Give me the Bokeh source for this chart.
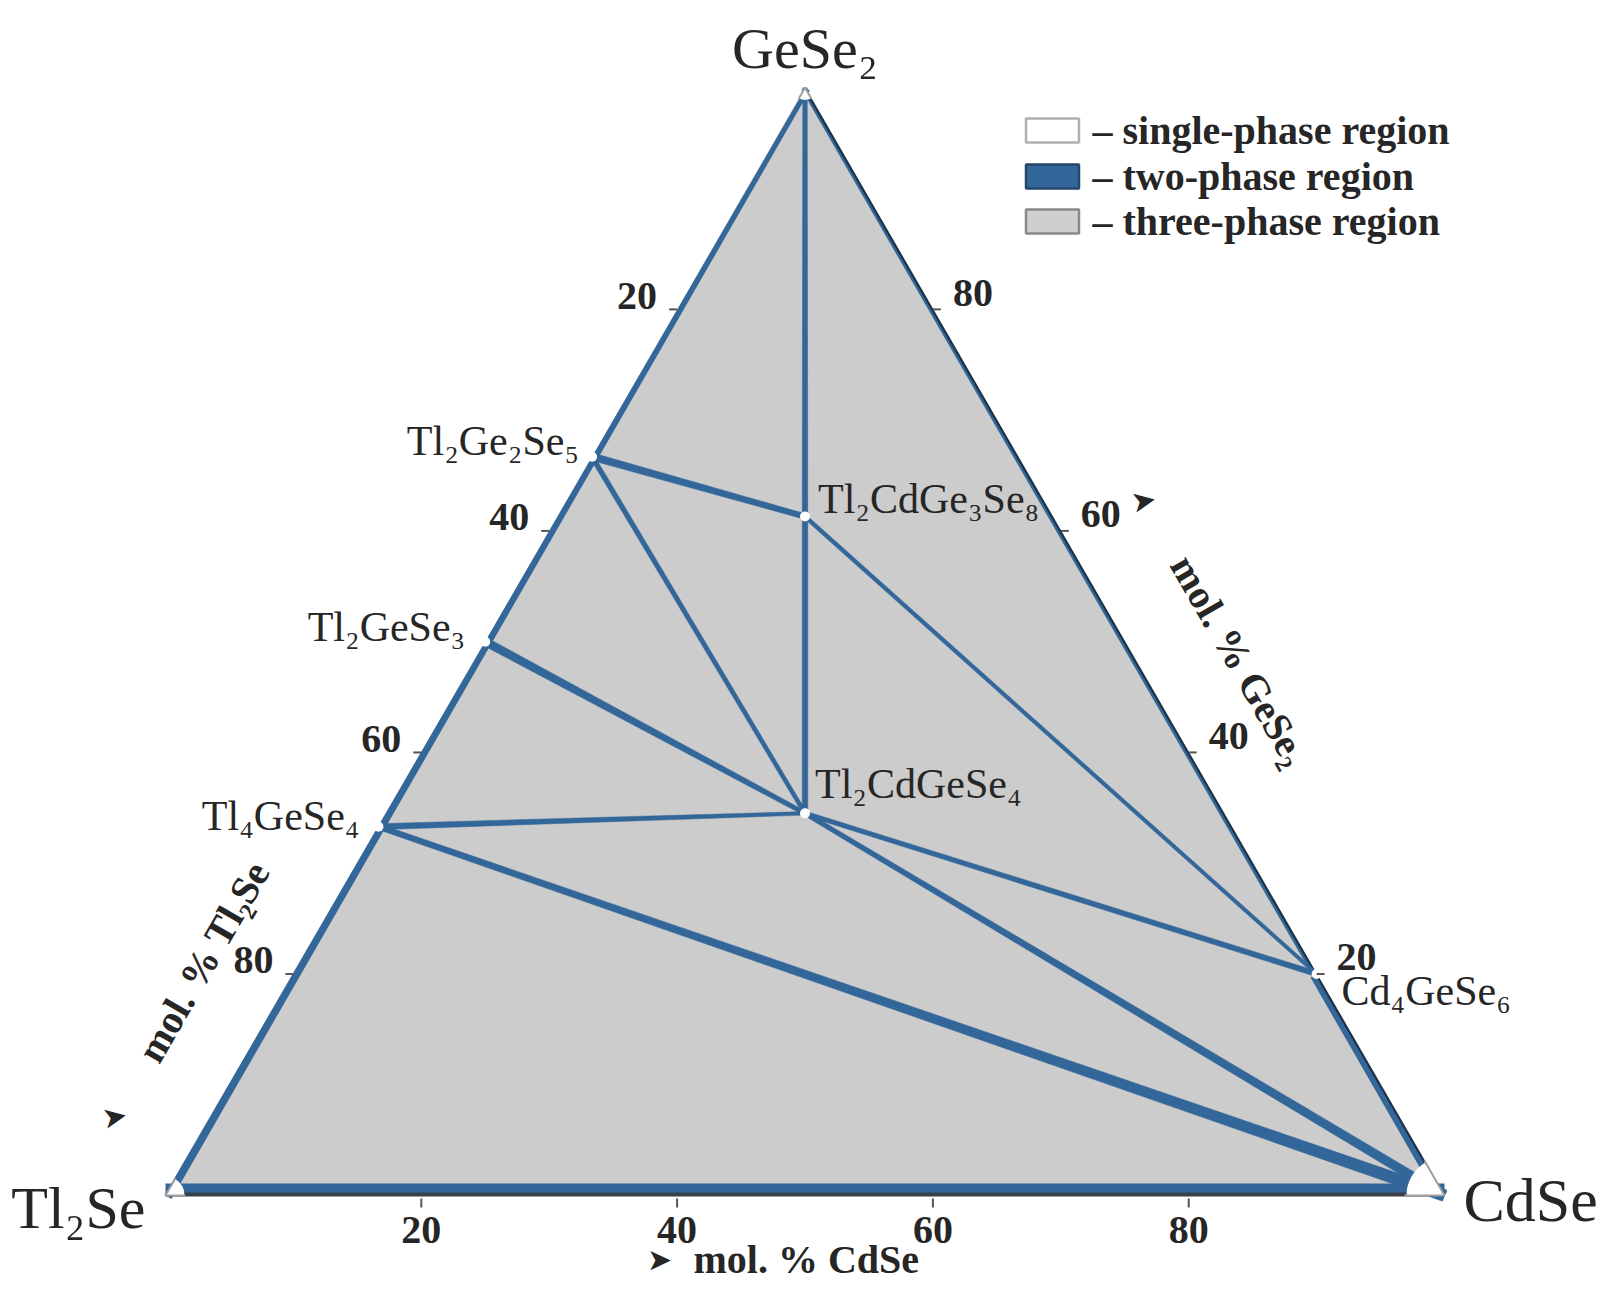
import numpy as np
from bokeh.plotting import figure
from bokeh.models import Range1d, ColumnDataSource
from bokeh.core.properties import value
from bokeh.embed import file_html
from bokeh.resources import INLINE

# ---------------- data (mol. %) ----------------
compounds = ["GeSe₂", "Tl₂Ge₂Se₅", "Tl₂GeSe₃", "Tl₄GeSe₄",
             "Tl₂CdGe₃Se₈", "Tl₂CdGeSe₄", "Cd₄GeSe₆", "CdSe", "Tl₂Se"]
gese2_pct = [100.0, 66.7, 50.0, 33.3, 61.3, 34.5, 20.0, 0.0, 0.0]
cdse_pct = [0.0, 0.0, 0.0, 0.0, 19.35, 32.75, 80.0, 100.0, 0.0]
tl2se_pct = [0.0, 33.3, 50.0, 66.7, 19.35, 32.75, 0.0, 0.0, 100.0]

tie_from = ["GeSe₂", "Tl₂CdGe₃Se₈", "Tl₂Ge₂Se₅", "Tl₂Ge₂Se₅", "Tl₂CdGe₃Se₈",
            "Tl₂GeSe₃", "Tl₄GeSe₄", "Tl₂CdGeSe₄", "Tl₂CdGeSe₄", "Tl₄GeSe₄"]
tie_to = ["Tl₂CdGe₃Se₈", "Tl₂CdGeSe₄", "Tl₂CdGe₃Se₈", "Tl₂CdGeSe₄", "Cd₄GeSe₆",
          "Tl₂CdGeSe₄", "Tl₂CdGeSe₄", "Cd₄GeSe₆", "CdSe", "CdSe"]

tick_values = [20, 40, 60, 80]
tick_labels = ["20", "40", "60", "80"]
axis_titles = ["mol. % Tl₂Se", "mol. % GeSe₂", "mol. % CdSe"]
legend_labels = ["– single-phase region", "– two-phase region", "– three-phase region"]

# ---------------- styling ----------------
BLUE = "#336699"
DARK = "#262626"
GRAY_FILL = "#cccccc"
SERIF = "Liberation Serif"
W, H = 1610, 1290
S = 12.79                 # px per composition unit
X0, Y0 = 165.0, 1195.0    # canvas pixel of the Tl2Se corner
R3 = np.sqrt(3) / 2.0
MID = 0.34                # baseline -> visual middle, in em
# tie line widths in px (start, end)
tie_w = [(4.5, 5.5), (5.5, 5.5), (7.5, 5.5), (5, 4), (4, 3.5), (8.5, 4.5), (6, 3.5), (4.5, 5.5), (4.5, 9.5), (5.5, 12)]


def ternxy(g, c):
    return c + g / 2.0, g * R3


def px2d(px, py):
    return (px - X0) / S, (Y0 - py) / S


def strip(p0, p1, w0, w1, shift=0.0):
    x0, y0 = p0
    x1, y1 = p1
    dx, dy = x1 - x0, y1 - y0
    L = np.hypot(dx, dy)
    nx, ny = -dy / L, dx / L
    h0, h1, s = w0 / 2 / S, w1 / 2 / S, shift / S
    xs = [x0 + nx * (s + h0), x1 + nx * (s + h1), x1 + nx * (s - h1), x0 + nx * (s - h0)]
    ys = [y0 + ny * (s + h0), y1 + ny * (s + h1), y1 + ny * (s - h1), y0 + ny * (s - h0)]
    return xs, ys


pos = {n: ternxy(g, c) for n, g, c in zip(compounds, gese2_pct, cdse_pct)}
A, B, C = pos["GeSe₂"], pos["Tl₂Se"], pos["CdSe"]

p = figure(width=W, height=H,
           x_range=Range1d((0 - X0) / S, (W - X0) / S),
           y_range=Range1d((Y0 - H) / S, (Y0 - 0) / S),
           output_backend="svg", toolbar_location=None, tools="",
           min_border=0, x_axis_location=None, y_axis_location=None,
           background_fill_color="white", border_fill_color="white",
           outline_line_color=None)
p.xgrid.visible = False
p.ygrid.visible = False

# three-phase field (whole triangle)
p.patch([B[0], C[0], A[0]], [B[1], C[1], A[1]], fill_color=GRAY_FILL, line_color=None)

# edge two-phase bands
bands = []
bands.append((strip(B, C, 10, 10, shift=7), BLUE))
bands.append((strip(B, C, 4, 4, shift=1), "#3a4048"))
bands.append((strip(A, B, 5, 8, shift=3), BLUE))
cd4 = pos["Cd₄GeSe₆"]
bands.append((strip(cd4, A, 3.5, 3.0, shift=2.5), BLUE))
bands.append((strip(cd4, A, 2.2, 2.2, shift=0.6), "#1d3148"))
bands.append((strip(C, cd4, 7, 6, shift=4), BLUE))
bands.append((strip(C, cd4, 2.2, 2.2, shift=0.6), "#1d3148"))
p.patches([b[0][0] for b in bands], [b[0][1] for b in bands],
          fill_color=[b[1] for b in bands], line_color=None)

# tie lines (narrow two-phase regions)
txs, tys = [], []
for f, t, (w0, w1) in zip(tie_from, tie_to, tie_w):
    xs, ys = strip(pos[f], pos[t], w0, w1)
    txs.append(xs)
    tys.append(ys)
p.patches(txs, tys, fill_color=BLUE, line_color=BLUE, line_width=0.5)

# single-phase regions at corners
for (cx, cy), r, a0, a1 in [(C, 38, 120, 180), (B, 19, 0, 60), (A, 12, 240, 300)]:
    p.wedge(x=[cx], y=[cy], radius=r / S, start_angle=a0, end_angle=a1,
            start_angle_units="deg", end_angle_units="deg",
            fill_color="white", line_color=None)

# light outline at corners
seg = []
for corner, others, r in [(C, (B, A), 40), (B, (C, A), 20), (A, (B, C), 13)]:
    for o in others:
        d = np.array(o) - np.array(corner)
        d = d / np.hypot(*d)
        seg.append((corner[0], corner[1], corner[0] + d[0] * r / S, corner[1] + d[1] * r / S))
p.segment([s[0] for s in seg], [s[1] for s in seg], [s[2] for s in seg], [s[3] for s in seg],
          line_color="#a0a0a0", line_width=2)

# compound points (single-phase)
inner = [n for n in compounds if n not in ("GeSe₂", "CdSe", "Tl₂Se")]
p.scatter([pos[n][0] for n in inner], [pos[n][1] for n in inner], size=10,
          fill_color="white", line_color=None)

# compound labels: (dx px, baseline dy px [down], align, font px)
lab_off = {"GeSe₂": (0, -20, "center", 58), "Tl₂Ge₂Se₅": (-13, -1, "right", 42),
           "Tl₂GeSe₃": (-20, 0, "right", 42), "Tl₄GeSe₄": (-19, 4, "right", 42),
           "Tl₂CdGe₃Se₈": (13, -3, "left", 42), "Tl₂CdGeSe₄": (10, -15, "left", 42),
           "Cd₄GeSe₆": (25, 31, "left", 42), "CdSe": (19, 26, "left", 62),
           "Tl₂Se": (-20, 33, "right", 60)}
lsrc = ColumnDataSource(dict(
    x=[pos[n][0] + lab_off[n][0] / S for n in compounds],
    y=[pos[n][1] - (lab_off[n][1] - MID * lab_off[n][3]) / S for n in compounds],
    text=compounds,
    align=[lab_off[n][2] for n in compounds],
    size=["%dpx" % lab_off[n][3] for n in compounds]))
p.text(x="x", y="y", text="text", source=lsrc, text_align="align", text_baseline="middle",
       text_font=value(SERIF), text_font_size="size", text_color=DARK)

# ticks and tick labels
left_pts = [ternxy(100 - t, 0) for t in tick_values]      # mol.% Tl2Se
right_pts = [ternxy(t, 100 - t) for t in tick_values]     # mol.% GeSe2
bottom_pts = [ternxy(0, t) for t in tick_values]          # mol.% CdSe
tx0, ty0, tx1, ty1 = [], [], [], []
for (x, y) in left_pts:
    tx0.append(x); ty0.append(y); tx1.append(x - 8 / S); ty1.append(y)
for (x, y) in right_pts:
    tx0.append(x); ty0.append(y); tx1.append(x + 8 / S); ty1.append(y)
for (x, y) in bottom_pts:
    tx0.append(x); ty0.append(y - 3 / S); tx1.append(x); ty1.append(y - 12 / S)
p.segment(tx0, ty0, tx1, ty1, line_color="#555555", line_width=2)

TS = 40
tick_font = dict(text_font=value(SERIF), text_font_size="%dpx" % TS, text_font_style="bold",
                 text_color=DARK, text_baseline="middle")
mid = MID * TS / S
p.text([x - 20 / S for x, y in left_pts], [y + mid for x, y in left_pts], tick_labels,
       text_align="right", **tick_font)
p.text([x + 20 / S for x, y in right_pts], [y + 3 / S + mid for x, y in right_pts], tick_labels,
       text_align="left", **tick_font)
p.text([x for x, y in bottom_pts], [y - 48 / S + mid for x, y in bottom_pts], tick_labels,
       text_align="center", **tick_font)

# axis titles
title_font = dict(text_font=value(SERIF), text_font_size="40px", text_font_style="bold",
                  text_color=DARK, text_baseline="middle")
lx, ly = px2d(203, 961)
rx, ry = px2d(1239, 660)
bx, by = px2d(693, 1259)
p.text([lx], [ly], [axis_titles[0]], angle=60, angle_units="deg", text_align="center", **title_font)
p.text([rx], [ry], [axis_titles[1]], angle=-60, angle_units="deg", text_align="center", **title_font)
p.text([bx], [by], [axis_titles[2]], text_align="left", **title_font)

# direction arrows
arrows = [px2d(114, 1116), px2d(1143, 500), px2d(659, 1259)]
p.text([a[0] for a in arrows], [a[1] for a in arrows], ["➤", "➤", "➤"],
       angle=[10, 10, 0], angle_units="deg", text_align="center", text_baseline="middle",
       text_font=value("DejaVu Sans"), text_font_size="30px", text_color=DARK)

# legend
leg_fill = ["#ffffff", BLUE, "#cfcfcf"]
leg_line = ["#b0b0b0", "#24476b", "#8a8a8a"]
leg_y_px = [130, 176, 221]
lcx = [px2d(1052, y)[0] for y in leg_y_px]
lcy = [px2d(1052, y)[1] for y in leg_y_px]
p.rect(lcx, lcy, width=53 / S, height=24 / S, fill_color=leg_fill, line_color=leg_line,
       line_width=2.5)
p.text([px2d(1092, 0)[0]] * 3, lcy, legend_labels, text_align="left", text_baseline="middle",
       text_font=value(SERIF), text_font_size="40px", text_font_style="bold", text_color=DARK)

open("out.html", "w").write(file_html(p, INLINE))
